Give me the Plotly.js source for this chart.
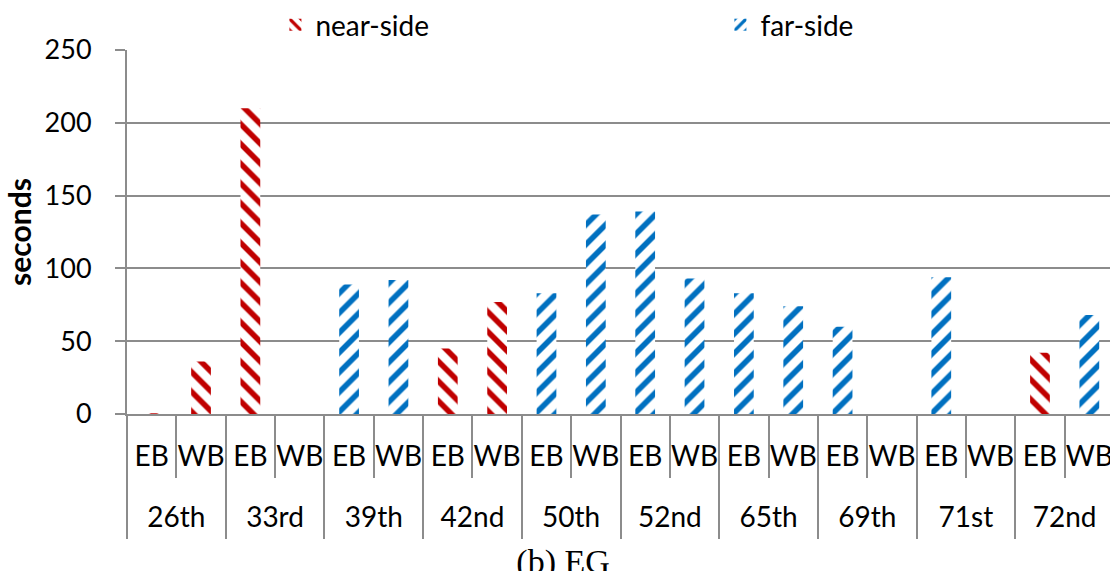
<!DOCTYPE html>
<html>
<head>
<meta charset="utf-8">
<script src="https://cdn.plot.ly/plotly-3.0.1.min.js"></script>
<style>html,body{margin:0;padding:0;overflow:hidden;background:#fff;}#chart{width:1115px;height:571px;}</style>
</head>
<body>
<div id="chart"></div>
<script>
const streets = ["26th","33rd","39th","42nd","50th","52nd","65th","69th","71st","72nd"];
const directions = ["EB","WB"];
// one value per street/direction pair (EB, WB order); null = no bar for that series
const nearSide = [0.5, 36, 210, null, null, null, 45, 77, null, null, null, null, null, null, null, null, null, null, 42, null];
const farSide  = [null, null, null, null, 89, 92, null, null, 83, 137, 139, 93, 83, 74, 60, null, 94, null, null, 68];

const xKeys = [], xText = [];
streets.forEach(s => directions.forEach(d => { xKeys.push(s + " " + d); xText.push(d); }));

const RED = "#C00000", BLUE = "#0070C0", GRID = "#8C8C8C";
const FONT = "Lato, 'Open Sans', sans-serif";

const traces = [
  {type: "bar", name: "near-side", x: xKeys, y: nearSide, width: 0.4, xaxis: "x", yaxis: "y",
   marker: {color: "#ffffff", opacity: 1, line: {width: 0},
            pattern: {shape: "\\", fgcolor: RED, bgcolor: "#ffffff", fgopacity: 1, size: 14, solidity: 0.4, fillmode: "overlay"}}},
  {type: "bar", name: "far-side", x: xKeys, y: farSide, width: 0.4, xaxis: "x", yaxis: "y",
   marker: {color: "#ffffff", opacity: 1, line: {width: 0},
            pattern: {shape: "/", fgcolor: BLUE, bgcolor: "#ffffff", fgopacity: 1, size: 14, solidity: 0.4, fillmode: "overlay"}}},
  // carrier for the street-level category axis (draws nothing)
  {type: "scatter", mode: "markers", x: streets, y: streets.map(() => null), xaxis: "x2", yaxis: "y",
   showlegend: false, hoverinfo: "skip", marker: {opacity: 0}}
];

const layout = {
  width: 1115, height: 571,
  margin: {l: 127, r: 1, t: 48, b: 157},
  paper_bgcolor: "#fff", plot_bgcolor: "#fff",
  barmode: "overlay",
  font: {family: FONT, size: 28, color: "#000"},
  showlegend: true,
  legend: {orientation: "h", xref: "container", x: 0.247, xanchor: "left", yref: "container", y: 1, yanchor: "top",
           entrywidth: 400, entrywidthmode: "pixels", font: {size: 28, family: FONT}, traceorder: "normal",
           bgcolor: "rgba(0,0,0,0)"},
  title: {text: "(b) EG", font: {family: "'Liberation Serif', serif", size: 34, color: "#000"},
          x: 0.505, xref: "container", xanchor: "center", y: 0.038, yref: "container", yanchor: "top"},
  xaxis: {type: "category", categoryorder: "array", categoryarray: xKeys, range: [-0.5, xKeys.length - 0.5],
          tickvals: xKeys, ticktext: xText, tickangle: 0,
          showgrid: false, showline: true, linecolor: GRID, linewidth: 2,
          ticks: "outside", tickson: "boundaries", ticklen: 62, tickcolor: GRID, tickwidth: 2,
          ticklabelstandoff: 16, tickfont: {size: 28, family: FONT}},
  xaxis2: {type: "category", overlaying: "x", anchor: "y", side: "bottom",
           categoryorder: "array", categoryarray: streets, range: [-0.5, streets.length - 0.5],
           tickvals: streets, ticktext: streets, tickangle: 0,
           showgrid: false, showline: false, zeroline: false,
           ticks: "outside", tickson: "boundaries", ticklen: 124, tickcolor: GRID, tickwidth: 2,
           ticklabelstandoff: 84, tickfont: {size: 28, family: FONT}},
  yaxis: {range: [0, 250], dtick: 50, showgrid: true, gridcolor: GRID, gridwidth: 2, zeroline: false,
          showline: true, linecolor: GRID, linewidth: 2, ticks: "outside", ticklen: 10, tickcolor: GRID, tickwidth: 2,
          tickfont: {size: 27, family: FONT}, ticklabelstandoff: 18,
          title: {text: "<b>seconds</b>", font: {size: 30, family: FONT}, standoff: 4}}
};

Plotly.newPlot("chart", traces, layout, {displayModeBar: false, staticPlot: true});
</script>
</body>
</html>
